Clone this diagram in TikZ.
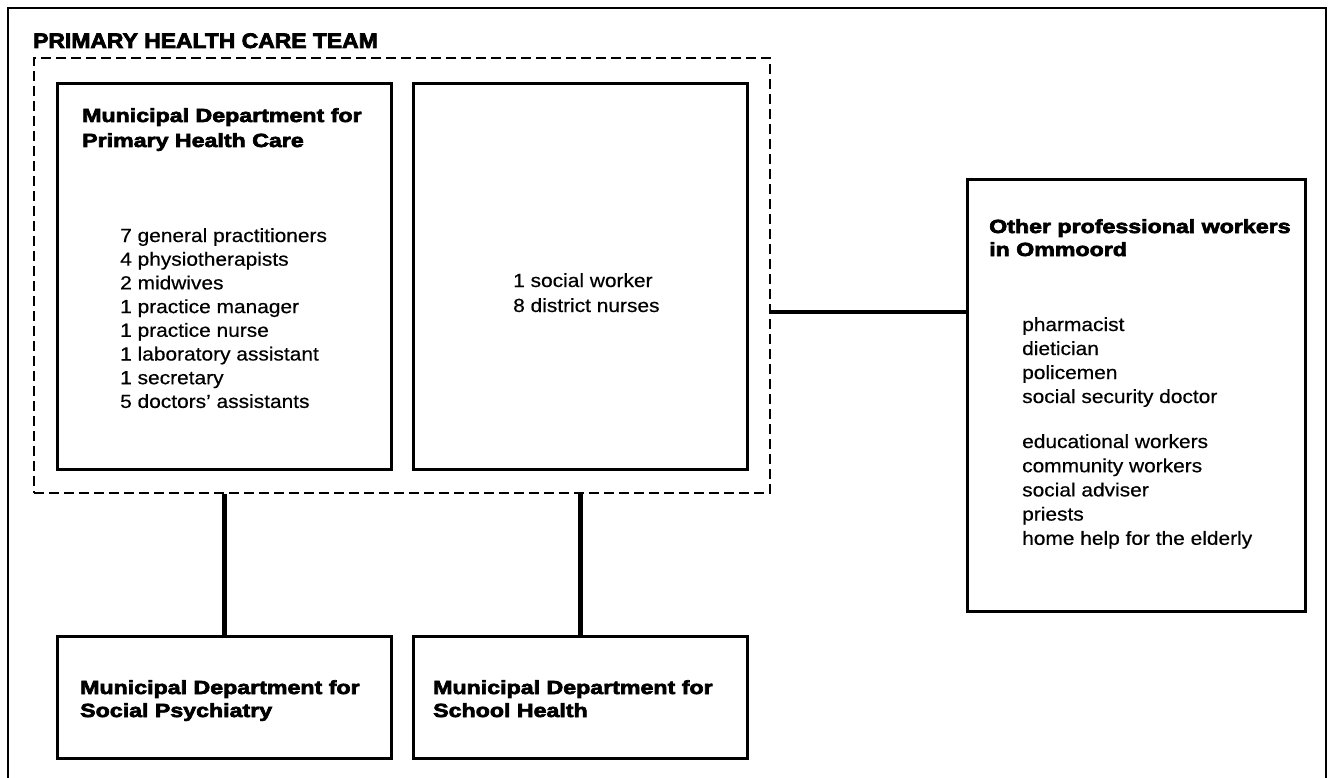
\documentclass[tikz,border=0pt]{standalone}
\usepackage{fontspec}
\setmainfont{Liberation Sans}
\newfontfamily\bodyfont{Liberation Sans}[FakeStretch=1.1,FakeBold=0.5]
\newfontfamily\headfont{Liberation Sans}[FakeStretch=1.22,FakeBold=3.5]
\newfontfamily\titlefont{Liberation Sans}[FakeStretch=1.09,FakeBold=3.5]
\begin{document}
\begin{tikzpicture}[x=1pt,y=-1pt,
  box/.style={draw, line width=2.6pt, inner sep=0pt, anchor=north west},
  teambox/.style={draw, line width=2.4pt, dash pattern=on 10pt off 5pt, inner sep=0pt, anchor=north west},
  link/.style={line width=4.4pt},
  body/.style={font=\bodyfont\fontsize{19}{23}\selectfont, inner sep=0pt, anchor=base west},
  head/.style={font=\headfont\bfseries\fontsize{19}{23}\selectfont, inner sep=0pt, anchor=base west},
  title/.style={font=\titlefont\bfseries\fontsize{21}{25}\selectfont, inner sep=0pt, anchor=base west}]
\useasboundingbox (0,0) rectangle (1329,778);

% open outer frame
\draw[line width=2.6pt] (8,778) -- (8,8) -- (1326,8) -- (1326,778);

% team and departments
\node[teambox, minimum width=736pt, minimum height=435pt] (team) at (33,57) {};
\node[title] (teamtitle) at (33,48) {PRIMARY HEALTH CARE TEAM};

\node[box, minimum width=334pt, minimum height=386pt] (pri) at (56,82) {};
\node[box, minimum width=334pt, minimum height=386pt] (dist) at (412,82) {};
\node[box, minimum width=338pt, minimum height=432pt] (other) at (966,178) {};
\node[box, minimum width=334pt, minimum height=122pt] (psy) at (56,635) {};
\node[box, minimum width=334pt, minimum height=122pt] (school) at (412,635) {};

% headings
\node[head] (prih1) at (82,122) {Municipal Department for};
\node[head] (prih2) at (82,147) {Primary Health Care};
\node[head] (othh1) at (989,233) {Other professional workers};
\node[head] (othh2) at (989,256) {in Ommoord};
\node[head] (psyh1) at (80,694) {Municipal Department for};
\node[head] (psyh2) at (80,717) {Social Psychiatry};
\node[head] (schh1) at (433,694) {Municipal Department for};
\node[head] (schh2) at (433,717) {School Health};

% staff lists
\foreach \t [count=\i from 0] in {7 general practitioners, 4 physiotherapists, 2 midwives,
    1 practice manager, 1 practice nurse, 1 laboratory assistant, 1 secretary,
    5 doctors’ assistants}
  \node[body] (pril\i) at (120,{242+\i*23.7}) {\t};

\node[body] (distl0) at (513,287) {1 social worker};
\node[body] (distl1) at (513,312) {8 district nurses};

\foreach \t [count=\i from 0] in {pharmacist, dietician, policemen, social security doctor}
  \node[body] (otha\i) at (1022,{331+\i*24}) {\t};
\foreach \t [count=\i from 0] in {educational workers, community workers, social adviser,
    priests, home help for the elderly}
  \node[body] (othb\i) at (1022,{448+\i*24.2}) {\t};

% connectors
\coordinate (tj) at (769,312);
\draw[link] (tj) -- (tj -| other.west);
\draw[link] (team.south -| psy.north) -- (psy.north);
\draw[link] (team.south -| school.north) -- (school.north);
\end{tikzpicture}
\end{document}
